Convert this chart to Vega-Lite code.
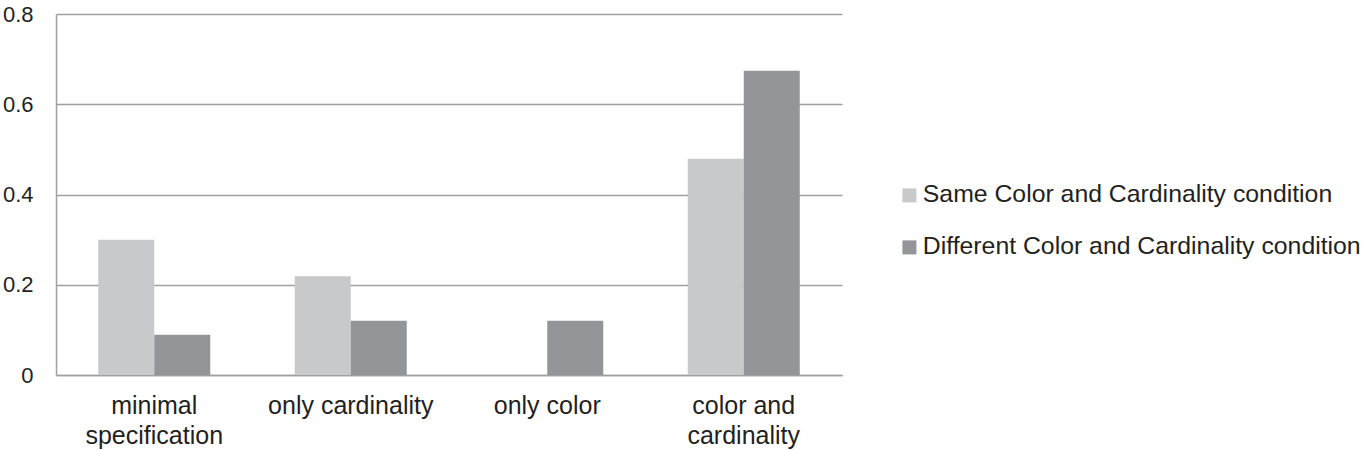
{
  "$schema": "https://vega.github.io/schema/vega-lite/v6.json",
  "width": 786,
  "height": 361,
  "autosize": {"type": "none"},
  "padding": {"left": 56, "top": 14, "right": 520, "bottom": 75},
  "background": "white",
  "config": {
    "view": {"stroke": null},
    "font": "Liberation Sans"
  },
  "data": {
    "values": [
      {"category": "minimal specification", "condition": "Same Color and Cardinality condition", "value": 0.30},
      {"category": "minimal specification", "condition": "Different Color and Cardinality condition", "value": 0.089},
      {"category": "only cardinality", "condition": "Same Color and Cardinality condition", "value": 0.219},
      {"category": "only cardinality", "condition": "Different Color and Cardinality condition", "value": 0.12},
      {"category": "only color", "condition": "Same Color and Cardinality condition", "value": 0},
      {"category": "only color", "condition": "Different Color and Cardinality condition", "value": 0.12},
      {"category": "color and cardinality", "condition": "Same Color and Cardinality condition", "value": 0.479},
      {"category": "color and cardinality", "condition": "Different Color and Cardinality condition", "value": 0.674}
    ]
  },
  "mark": {"type": "bar"},
  "encoding": {
    "x": {
      "field": "category",
      "type": "nominal",
      "sort": ["minimal specification", "only cardinality", "only color", "color and cardinality"],
      "scale": {"paddingInner": 0.43, "paddingOuter": 0.215},
      "axis": {
        "title": null,
        "labelAngle": 0,
        "labelFontSize": 25,
        "labelColor": "#231f20",
        "labelPadding": 30,
        "labelLineHeight": 30,
        "labelBaseline": "middle",
        "ticks": false,
        "domain": true,
        "domainColor": "#a0a0a0",
        "domainWidth": 1.5,
        "labelExpr": "datum.label == 'minimal specification' ? ['minimal', 'specification'] : datum.label == 'color and cardinality' ? ['color and', 'cardinality'] : datum.label"
      }
    },
    "xOffset": {
      "field": "condition",
      "type": "nominal",
      "sort": ["Same Color and Cardinality condition", "Different Color and Cardinality condition"],
      "scale": {"paddingInner": 0, "paddingOuter": 0}
    },
    "y": {
      "field": "value",
      "type": "quantitative",
      "scale": {"domain": [0, 0.8]},
      "axis": {
        "title": null,
        "values": [0, 0.2, 0.4, 0.6, 0.8],
        "format": "~g",
        "labelFontSize": 22,
        "labelColor": "#231f20",
        "labelPadding": 23,
        "ticks": false,
        "domainColor": "#a0a0a0",
        "domainWidth": 1.5,
        "gridColor": "#a0a0a0",
        "gridWidth": 1.5
      }
    },
    "color": {
      "field": "condition",
      "type": "nominal",
      "sort": ["Same Color and Cardinality condition", "Different Color and Cardinality condition"],
      "scale": {"range": ["#c8c9cb", "#939598"]},
      "legend": {
        "title": null,
        "orient": "none",
        "legendX": 841,
        "legendY": 169,
        "symbolType": "square",
        "symbolSize": 196,
        "symbolStrokeWidth": 0,
        "labelFontSize": 24.8,
        "labelColor": "#231f20",
        "rowPadding": 26,
        "labelOffset": 1,
        "labelLimit": 500
      }
    }
  }
}
